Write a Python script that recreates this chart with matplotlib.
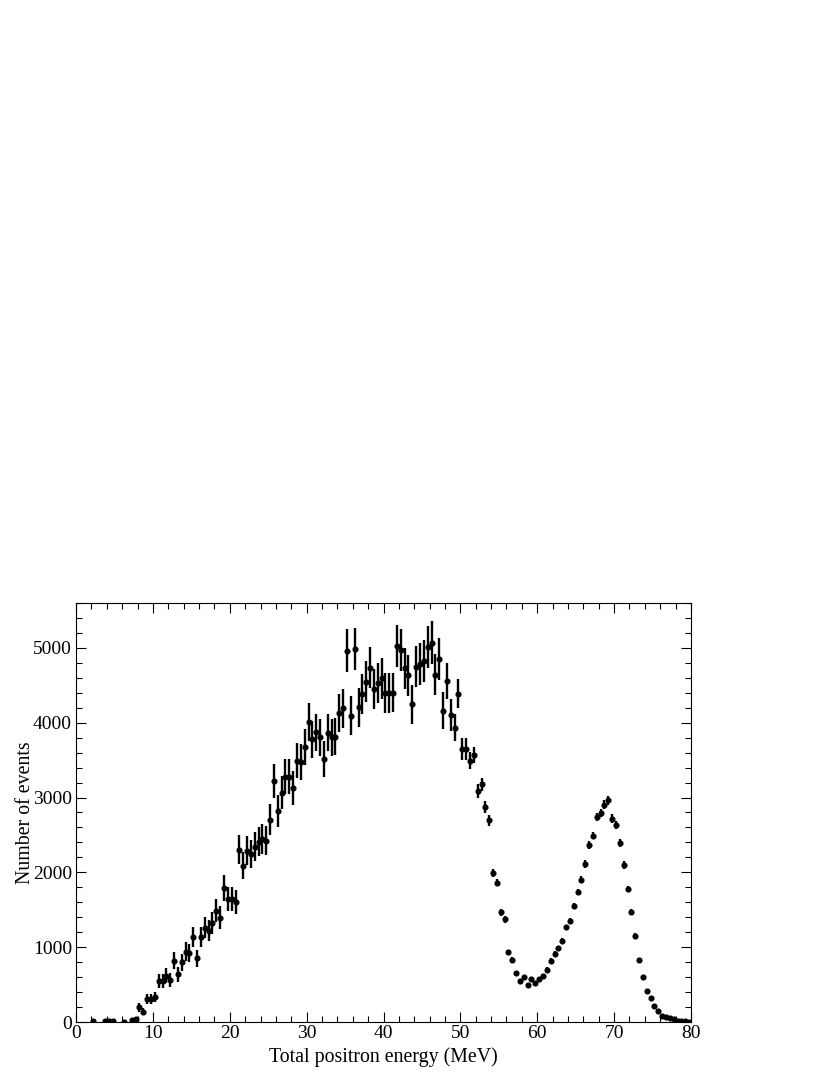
import numpy as np
import matplotlib.pyplot as plt
from matplotlib.ticker import MultipleLocator

# bin centres (MeV), counts and errors (0.5 MeV bins)
energy = [2.25, 3.75, 4.25, 4.75, 6.25, 7.25, 7.75, 8.25, 8.75, 9.25, 9.75,
          10.25, 10.75, 11.25, 11.75, 12.25, 12.75, 13.25, 13.75, 14.25, 14.75,
          15.25, 15.75, 16.25, 16.75, 17.25, 17.75, 18.25, 18.75, 19.25, 19.75,
          20.25, 20.75, 21.25, 21.75, 22.25, 22.75, 23.25, 23.75, 24.25, 24.75,
          25.25, 25.75, 26.25, 26.75, 27.25, 27.75, 28.25, 28.75, 29.25, 29.75,
          30.25, 30.75, 31.25, 31.75, 32.25, 32.75, 33.25, 33.75, 34.25, 34.75,
          35.25, 35.75, 36.25, 36.75, 37.25, 37.75, 38.25, 38.75, 39.25, 39.75,
          40.25, 40.75, 41.25, 41.75, 42.25, 42.75, 43.25, 43.75, 44.25, 44.75,
          45.25, 45.75, 46.25, 46.75, 47.25, 47.75, 48.25, 48.75, 49.25, 49.75,
          50.25, 50.75, 51.25, 51.75, 52.25, 52.75, 53.25, 53.75, 54.25, 54.75,
          55.25, 55.75, 56.25, 56.75, 57.25, 57.75, 58.25, 58.75, 59.25, 59.75,
          60.25, 60.75, 61.25, 61.75, 62.25, 62.75, 63.25, 63.75, 64.25, 64.75,
          65.25, 65.75, 66.25, 66.75, 67.25, 67.75, 68.25, 68.75, 69.25, 69.75,
          70.25, 70.75, 71.25, 71.75, 72.25, 72.75, 73.25, 73.75, 74.25, 74.75,
          75.25, 75.75, 76.25, 76.75, 77.25, 77.75, 78.25, 78.75, 79.25, 79.75]

counts = [8, 12, 12, 12, 5, 30, 45, 196, 138, 307, 307,
          334, 548, 548, 619, 557, 820, 637, 798, 940, 918,
          1136, 851, 1141, 1261, 1221, 1319, 1484, 1395, 1789, 1640,
          1640, 1600, 2304, 2090, 2291, 2242, 2340, 2411, 2447, 2424,
          2705, 3217, 2825, 3066, 3280, 3280, 3124, 3494, 3476, 3676,
          4011, 3779, 3873, 3806, 3512, 3868, 3806, 3815, 4127, 4193,
          4964, 4095, 4982, 4207, 4385, 4550, 4733, 4447, 4532, 4594,
          4394, 4398, 4403, 5022, 4973, 4728, 4635, 4247, 4750, 4786,
          4826, 5013, 5071, 4643, 4848, 4162, 4554, 4104, 3935, 4389,
          3645, 3645, 3494, 3570, 3084, 3177, 2870, 2696, 1992, 1863,
          1465, 1372, 935, 834, 658, 553, 595, 495, 580, 522,
          576, 616, 701, 821, 915, 987, 1085, 1263, 1348, 1549,
          1737, 1902, 2112, 2362, 2491, 2737, 2795, 2906, 2964, 2719,
          2634, 2393, 2098, 1777, 1469, 1156, 830, 598, 415, 317,
          214, 147, 85, 71, 58, 36, 18, 13, 8, 6]

errors = [10, 12, 12, 12, 8, 22, 27, 56, 47, 70, 70,
          73, 94, 94, 100, 94, 115, 101, 113, 123, 121,
          135, 117, 135, 142, 140, 145, 154, 149, 169, 162,
          162, 160, 192, 183, 191, 189, 193, 196, 198, 197,
          208, 227, 213, 221, 229, 229, 224, 236, 236, 243,
          253, 246, 249, 247, 237, 249, 247, 247, 257, 259,
          282, 256, 282, 259, 265, 270, 275, 267, 269, 271,
          265, 265, 265, 283, 282, 275, 272, 261, 276, 277,
          278, 283, 285, 273, 279, 250, 240, 210, 185, 190,
          150, 145, 116, 107, 94, 89, 78, 73, 58, 49,
          45, 45, 32, 30, 27, 25, 26, 24, 26, 25,
          26, 27, 28, 30, 32, 33, 35, 38, 39, 42,
          44, 46, 48, 51, 52, 55, 56, 57, 58, 55,
          54, 52, 48, 44, 40, 36, 30, 25, 21, 18,
          15, 12, 9, 8, 8, 6, 4, 4, 3, 2]

plt.rcParams['font.family'] = ['Liberation Serif', 'DejaVu Serif']

fig = plt.figure(figsize=(8.3, 10.75), dpi=100)
ax = fig.add_axes([0.0916, 0.0493, 0.7409, 0.3898])

ax.errorbar(energy, counts, yerr=errors, fmt='o', color='black',
            markersize=3.4, elinewidth=1.7, capsize=0)

ax.set_xlim(0, 80)
ax.set_ylim(0, 5600)
ax.xaxis.set_major_locator(MultipleLocator(10))
ax.xaxis.set_minor_locator(MultipleLocator(2))
ax.yaxis.set_major_locator(MultipleLocator(1000))
ax.yaxis.set_minor_locator(MultipleLocator(200))
ax.tick_params(which='both', direction='in', top=True, right=True,
               labelsize=14, width=0.8)
ax.tick_params(which='major', length=7.5)
ax.tick_params(which='minor', length=4)
ax.tick_params(axis='y', pad=3)
ax.tick_params(axis='x', pad=2.5)
for s in ax.spines.values():
    s.set_linewidth(0.8)

ax.set_xlabel("Total positron energy (MeV)", fontsize=14.3, labelpad=3.5)
ax.set_ylabel("Number of events", fontsize=14.3, labelpad=-1.5)

fig.savefig("out.png", dpi=100)
